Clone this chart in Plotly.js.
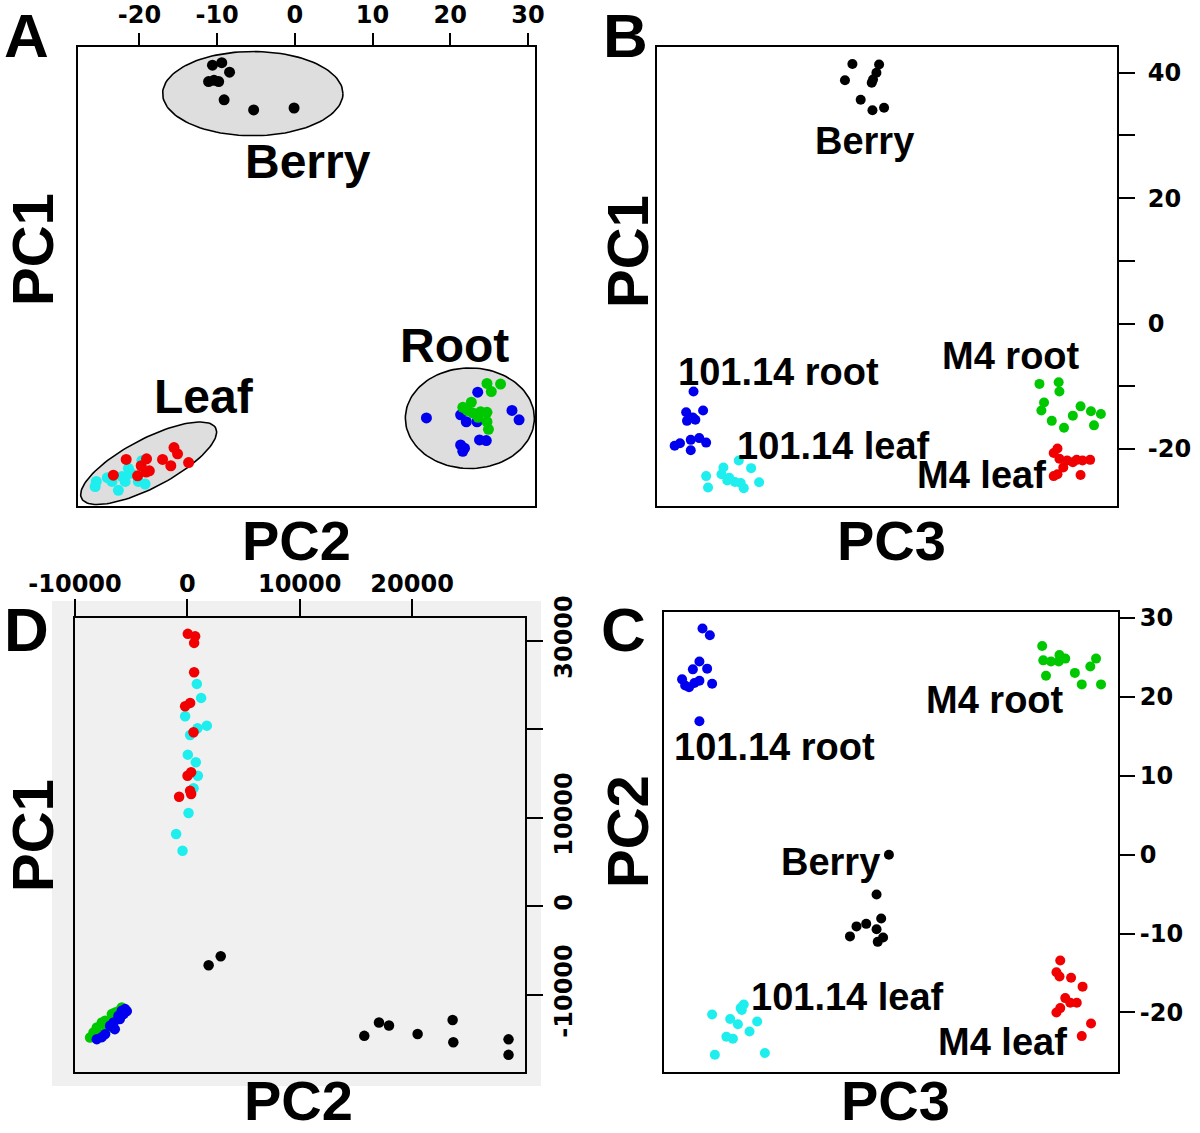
<!DOCTYPE html>
<html>
<head>
<meta charset="utf-8">
<script src="https://cdn.plot.ly/plotly-3.0.1.min.js"></script>
<style>html,body{margin:0;padding:0;background:#fff}#chart{width:1200px;height:1133px}</style>
</head>
<body>
<div id="chart"></div>
<script>
// ---------- Panel A: PC2 (x) vs PC1 (y) ----------
const A_berry_pc2 = [-10.6,-9.4,-8.4,-11.1,-10.4,-9.8,-9.1,-5.3,-0.1];
const A_berry_pc1 = [41.1,41.5,40.0,38.5,38.7,38.5,35.6,34.0,34.3];
const A_leaf101_pc2 = [-25.55,-25.69,-23.53,-21.42,-19.68,-21.83,-22.71,-19.27,-20.14,-22.25,-21.06,-24.13];
const A_leaf101_pc1 = [-25.1,-25.9,-25.1,-23.0,-21.8,-25.1,-26.5,-25.5,-25.1,-24.3,-23.8,-24.5];
const A_leafM4_pc2 = [-21.7,-19.08,-19.77,-20.23,-18.72,-23.35,-17.02,-15.96,-15.55,-15.09,-13.67,-19.13];
const A_leafM4_pc1 = [-21.6,-21.5,-22.6,-24.2,-23.4,-24.1,-21.6,-22.6,-19.7,-20.7,-22.1,-23.6];
const A_root101_pc2 = [16.93,23.53,21.33,22.06,23.44,27.94,28.85,21.33,21.83,21.61,23.76,24.63];
const A_root101_pc1 = [-15.0,-10.9,-14.5,-15.6,-15.6,-13.8,-15.3,-19.3,-19.8,-20.3,-18.5,-18.6];
const A_rootM4_pc2 = [24.72,26.47,25.28,22.71,21.61,22.89,23.9,24.72,24.72,24.91,22.2,23.58];
const A_rootM4_pc1 = [-9.5,-9.6,-10.8,-12.5,-13.3,-14.2,-14.0,-14.1,-15.6,-16.8,-13.8,-14.9];
// group ellipses: centre, first semi-axis, second semi-axis (data units)
const A_ellipse_labels = ['Berry','Leaf','Root'];
const A_ellipse_cx = [-5.41, -18.81, 22.52];
const A_ellipse_cy = [36.59, -22.2, -15.04];
const A_ellipse_axis1 = [[11.6,0],[8.61,5.64],[8.3,0]];
const A_ellipse_axis2 = [[0,6.7],[1.54,-3.37],[0,8.0]];
const A_x_ticks = [-20,-10,0,10,20,30];
const A_x_ticklabels = ['-20','-10','0','10','20','30'];

// ---------- Panel B: PC3 (x) vs PC1 (y) ----------
const B_berry_pc3 = [-3.76,-0.86,-1.15,-4.57,-1.52,-1.66,-2.86,-1.58,-0.32];
const B_berry_pc1 = [41.4,41.3,40.0,38.8,38.9,38.4,35.7,34.0,34.4];
const B_root101_pc3 = [-21.03,-21.83,-21.12,-19.99,-21.74,-20.83,-23.08,-22.5,-21.33,-21.33,-20.41,-19.66];
const B_root101_pc1 = [-10.84,-14.14,-14.97,-13.87,-15.52,-15.35,-19.49,-19.1,-20.2,-18.55,-18.27,-18.99];
const B_leaf101_pc3 = [-19.66,-19.45,-17.78,-16.11,-14.77,-17.99,-17.36,-16.53,-15.9,-15.57,-13.9,-17.15];
const B_leaf101_pc1 = [-24.33,-26.14,-22.95,-21.85,-23.06,-24.05,-25.04,-25.26,-25.43,-26.25,-25.32,-24.6];
const B_rootM4_pc3 = [16.57,18.66,18.74,17.07,16.78,17.91,19.24,20.2,21.04,22.17,23.25,22.5];
const B_rootM4_pc1 = [-9.63,-9.36,-10.84,-12.6,-13.87,-15.52,-16.62,-14.69,-13.21,-13.98,-14.42,-16.24];
const B_leafM4_pc3 = [18.53,18.12,18.74,19.58,20.62,22.08,19.16,20.2,18.12,18.53,21.04,21.25];
const B_leafM4_pc1 = [-19.92,-20.64,-21.57,-21.85,-21.74,-21.74,-22.95,-22.12,-24.33,-24.05,-24.16,-21.85];
const B_y_ticks = [-20,-10,0,10,20,30,40];
const B_y_ticklabels = ['-20','','0','','20','','40'];

// ---------- Panel C: PC3 (x) vs PC2 (y) ----------
const C_root101_pc3 = [-20.76,-19.95,-21.1,-21.82,-20.25,-23.01,-22.24,-21.65,-21.1,-19.7,-22.67,-21.1];
const C_root101_pc2 = [28.68,27.82,24.5,23.5,23.59,22.23,21.23,21.77,22.05,21.68,21.45,16.91];
const C_rootM4_pc3 = [16.65,16.77,17.62,18.55,19.19,18.47,17.07,20.25,21.95,22.58,21.01,23.13];
const C_rootM4_pc2 = [26.45,24.64,24.5,25.32,24.86,24.5,22.68,23.05,23.86,24.86,21.59,21.59];
const C_berry_pc3 = [-0.23,-1.59,-1.08,-2.73,-3.8,-4.52,-1.59,-1.46,-0.87];
const C_berry_pc2 = [0,-5.05,-8.09,-8.77,-9.09,-10.36,-9.45,-11.05,-10.5];
const C_leaf101_pc3 = [-19.7,-17.71,-16.86,-16.22,-16.43,-15.58,-14.74,-18.13,-17.41,-19.4,-13.89,-16.56];
const C_leaf101_pc2 = [-20.27,-20.82,-21.5,-19.0,-19.68,-22.41,-21.14,-23.09,-23.32,-25.36,-25.14,-19.45];
const C_leafM4_pc3 = [18.64,18.22,18.56,19.83,21.1,19.19,19.74,20.46,18.22,18.64,22.03,21.01];
const C_leafM4_pc2 = [-13.41,-14.91,-15.45,-15.59,-16.73,-18.18,-18.77,-18.77,-20.0,-19.45,-21.41,-23.0];
const C_y_ticks = [-20,-10,0,10,20,30];
const C_y_ticklabels = ['-20','-10','0','10','20','30'];

// ---------- Panel D: PC2 (x) vs PC1 (y), unscaled ----------
const D_leaf101_pc2 = [843,1226,-199,905,1733,246,42,754,932,549,104,-1000,-430];
const D_leaf101_pc1 = [25103,23520,21452,20094,20388,19336,17108,16249,14734,13310,10517,8143,6255];
const D_leafM4_pc2 = [42,691,602,602,-199,246,549,15,335,-733,246,335];
const D_leafM4_pc1 = [30757,30497,29739,26426,22581,22955,19642,14734,15119,12360,13040,12665];
const D_rootM4_pc2 = [-8657,-8354,-8060,-7615,-7321,-6725,-6431,-5834,-7170,-7793,-6903,-6102];
const D_rootM4_pc1 = [-14844,-14279,-13713,-13148,-12967,-12209,-12017,-11452,-13906,-14472,-13340,-11870];
const D_root101_pc2 = [-8060,-7321,-6876,-6573,-6128,-5683,-5540,-5834,-6458,-6013,-7615,-5389];
const D_root101_pc1 = [-15037,-14472,-13533,-13148,-12402,-12209,-11644,-11836,-13906,-12775,-14811,-11870];
const D_berry_pc2 = [1893,2970,15746,17056,17946,20492,23608,23670,28584,28584];
const D_berry_pc1 = [-6681,-5664,-14666,-13162,-13490,-14462,-12879,-15389,-15061,-16814];
const D_x_ticks = [-10000,0,10000,20000];
const D_x_ticklabels = ['-10000','0','10000','20000'];
const D_y_ticks = [-10000,0,10000,20000,30000];
const D_y_ticklabels = ['-10000','0','10000','','30000'];

// ---------- styling ----------
const COL = {berry:'#000000', root101:'#0000ee', leaf101:'#1eeeee', rootM4:'#00c800', leafM4:'#f00000'};
const W = 1200, H = 1133;
const px = v => v / W, py = v => 1 - v / H;
const bold = arr => arr.map(s => s === '' ? '' : '<b>' + s + '</b>');

function pts(x, y, color, size, xa, ya) {
  return {x: x, y: y, type: 'scatter', mode: 'markers', xaxis: xa, yaxis: ya,
          marker: {color: color, size: size, line: {width: 0}}, hoverinfo: 'x+y', showlegend: false};
}
function ellipse(i) {
  const xs = [], ys = [];
  for (let k = 0; k <= 120; k++) {
    const t = 2 * Math.PI * k / 120;
    xs.push(A_ellipse_cx[i] + A_ellipse_axis1[i][0] * Math.cos(t) + A_ellipse_axis2[i][0] * Math.sin(t));
    ys.push(A_ellipse_cy[i] + A_ellipse_axis1[i][1] * Math.cos(t) + A_ellipse_axis2[i][1] * Math.sin(t));
  }
  return {x: xs, y: ys, type: 'scatter', mode: 'lines', fill: 'toself', fillcolor: '#dedede',
          line: {color: '#000', width: 1.6}, xaxis: 'x', yaxis: 'y', hoverinfo: 'skip', showlegend: false,
          name: A_ellipse_labels[i]};
}

const traces = [];
A_ellipse_labels.forEach((_, i) => traces.push(ellipse(i)));
traces.push(pts(A_berry_pc2, A_berry_pc1, COL.berry, 11, 'x', 'y'));
traces.push(pts(A_leaf101_pc2, A_leaf101_pc1, COL.leaf101, 11, 'x', 'y'));
traces.push(pts(A_leafM4_pc2, A_leafM4_pc1, COL.leafM4, 11, 'x', 'y'));
traces.push(pts(A_root101_pc2, A_root101_pc1, COL.root101, 11, 'x', 'y'));
traces.push(pts(A_rootM4_pc2, A_rootM4_pc1, COL.rootM4, 11, 'x', 'y'));

traces.push(pts(B_berry_pc3, B_berry_pc1, COL.berry, 10, 'x2', 'y2'));
traces.push(pts(B_root101_pc3, B_root101_pc1, COL.root101, 10, 'x2', 'y2'));
traces.push(pts(B_leaf101_pc3, B_leaf101_pc1, COL.leaf101, 10, 'x2', 'y2'));
traces.push(pts(B_rootM4_pc3, B_rootM4_pc1, COL.rootM4, 10, 'x2', 'y2'));
traces.push(pts(B_leafM4_pc3, B_leafM4_pc1, COL.leafM4, 10, 'x2', 'y2'));

traces.push(pts(D_leaf101_pc2, D_leaf101_pc1, COL.leaf101, 10.5, 'x3', 'y3'));
traces.push(pts(D_leafM4_pc2, D_leafM4_pc1, COL.leafM4, 10.5, 'x3', 'y3'));
traces.push(pts(D_rootM4_pc2, D_rootM4_pc1, COL.rootM4, 10.5, 'x3', 'y3'));
traces.push(pts(D_root101_pc2, D_root101_pc1, COL.root101, 10.5, 'x3', 'y3'));
traces.push(pts(D_berry_pc2, D_berry_pc1, COL.berry, 10.5, 'x3', 'y3'));

traces.push(pts(C_root101_pc3, C_root101_pc2, COL.root101, 10, 'x4', 'y4'));
traces.push(pts(C_rootM4_pc3, C_rootM4_pc2, COL.rootM4, 10, 'x4', 'y4'));
traces.push(pts(C_berry_pc3, C_berry_pc2, COL.berry, 10, 'x4', 'y4'));
traces.push(pts(C_leaf101_pc3, C_leaf101_pc2, COL.leaf101, 10, 'x4', 'y4'));
traces.push(pts(C_leafM4_pc3, C_leafM4_pc2, COL.leafM4, 10, 'x4', 'y4'));

const tickFont = {family: 'DejaVu Sans', size: 24, color: '#000', weight: 'bold'};
function ax(extra) {
  return Object.assign({showgrid: false, zeroline: false, showline: true, mirror: true,
    linecolor: '#000', linewidth: 2, tickcolor: '#000', tickwidth: 2, tickfont: tickFont,
    automargin: false, fixedrange: true}, extra);
}
const none = {ticks: '', showticklabels: false};

const lblFont = s => ({family: 'Liberation Sans', size: s, color: '#000', weight: 'bold'});
function ann(text, x, y, size, angle) {
  return {text: text, x: px(x), y: py(y), xref: 'paper', yref: 'paper', showarrow: false,
          xanchor: 'center', yanchor: 'middle', font: lblFont(size), textangle: angle || 0, borderpad: 0};
}

const layout = {
  width: W, height: H, margin: {l: 0, r: 0, t: 0, b: 0},
  paper_bgcolor: '#ffffff', plot_bgcolor: 'rgba(0,0,0,0)', showlegend: false,
  xaxis: ax({domain: [px(78), px(535)], range: [-27.9, 30.9], anchor: 'y', side: 'top',
             tickmode: 'array', tickvals: A_x_ticks, ticktext: bold(A_x_ticklabels), ticks: 'outside', ticklen: 12}),
  yaxis: ax(Object.assign({domain: [py(506), py(47)], range: [-29, 44], anchor: 'x'}, none)),
  xaxis2: ax(Object.assign({domain: [px(657), px(1117)], range: [-25, 25], anchor: 'y2'}, none)),
  yaxis2: ax({domain: [py(506), py(47)], range: [-29.1, 44.1], anchor: 'x2', side: 'right',
              tickmode: 'array', tickvals: B_y_ticks, ticktext: bold(B_y_ticklabels), ticks: 'outside',
              ticklen: 16, ticklabelstandoff: 8}),
  xaxis3: ax({domain: [px(75), px(525)], range: [-10000, 30050], anchor: 'y3', side: 'top',
              tickmode: 'array', tickvals: D_x_ticks, ticktext: bold(D_x_ticklabels), ticks: 'outside',
              ticklen: 17, ticklabelstandoff: -3}),
  yaxis3: ax({domain: [py(1072), py(618)], range: [-18750, 32550], anchor: 'x3', side: 'right',
              tickmode: 'array', tickvals: D_y_ticks, ticktext: bold(D_y_ticklabels), ticks: 'outside',
              ticklen: 16, tickangle: -90}),
  xaxis4: ax(Object.assign({domain: [px(664), px(1118)], range: [-25, 25], anchor: 'y4'}, none)),
  yaxis4: ax({domain: [py(1072), py(612)], range: [-27.55, 30.77], anchor: 'x4', side: 'right',
              tickmode: 'array', tickvals: C_y_ticks, ticktext: bold(C_y_ticklabels), ticks: 'outside', ticklen: 15}),
  shapes: [{type: 'rect', xref: 'paper', yref: 'paper', x0: px(52), x1: px(541), y0: py(1086), y1: py(601),
            fillcolor: '#f0f0f0', line: {width: 0}, layer: 'below'}],
  annotations: [
    ann('A', 26, 36, 62), ann('B', 625, 36, 62), ann('D', 26, 630, 62), ann('C', 623, 630, 62),
    ann('PC1', 32, 250, 58, -90), ann('PC2', 296, 540, 56),
    ann('PC1', 627, 252, 58, -90), ann('PC3', 891, 540, 56),
    ann('PC1', 32, 836, 58, -90), ann('PC2', 298, 1100, 56),
    ann('PC2', 627, 832, 58, -90), ann('PC3', 895, 1100, 56),
    ann('Berry', 308, 162, 48), ann('Root', 454, 346, 48), ann('Leaf', 204, 396, 48),
    ann('Berry', 864, 141, 38), ann('101.14 root', 778, 372, 38), ann('M4 root', 1011, 356, 38),
    ann('101.14 leaf', 834, 446, 38), ann('M4 leaf', 981, 475, 38),
    ann('101.14 root', 774, 747, 38), ann('M4 root', 995, 700, 38), ann('Berry', 830, 862, 38),
    ann('101.14 leaf', 847, 997, 38), ann('M4 leaf', 1002, 1042, 38)
  ]
};

Plotly.newPlot('chart', traces, layout, {displayModeBar: false, staticPlot: true});
</script>
</body>
</html>
